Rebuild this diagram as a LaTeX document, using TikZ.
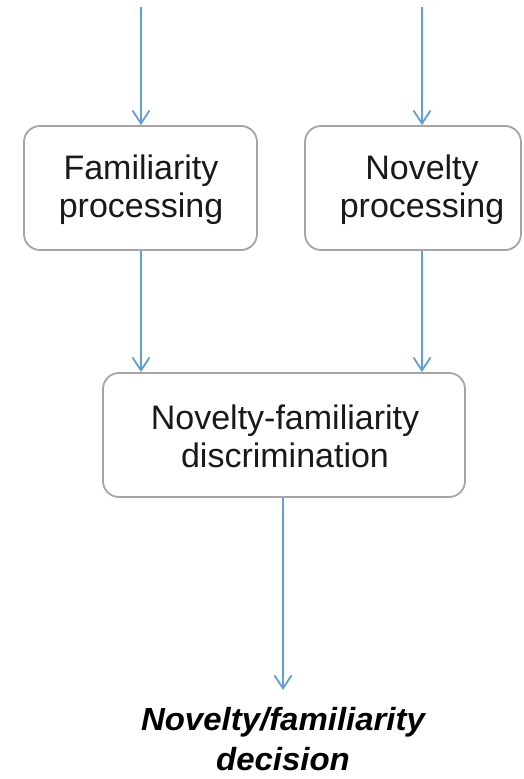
\documentclass[tikz,border=0pt]{standalone}
\usepackage{fontspec}
\setmainfont{Liberation Sans}
\usetikzlibrary{arrows.meta}
\definecolor{arrblue}{RGB}{98,158,214}
\definecolor{boxgray}{RGB}{165,165,165}
\definecolor{txtgray}{RGB}{25,25,25}
\begin{document}
\begin{tikzpicture}[x=1pt,y=-1pt,
  procbox/.style={draw=boxgray, line width=1.8pt, rounded corners=16pt, minimum height=124pt, inner sep=0pt},
  boxtext/.style={font=\fontsize{34}{38}\selectfont, text=txtgray, align=center, inner sep=0pt},
  dectext/.style={font=\fontsize{32}{40}\selectfont\bfseries\itshape, text=black, align=center, inner sep=0pt},
  arr/.style={draw=arrblue, line width=1.8pt, -{Straight Barb[length=13pt,width=17pt,line width=1.8pt]}}]
\useasboundingbox (0,0) rectangle (524,779);
% boxes
\node[procbox, minimum width=233pt] (fam) at (140.5,188) {};
\node[boxtext] (famt) at (141,190) {Familiarity\\processing};
\node[procbox, minimum width=216pt] (nov) at (413,188) {};
\node[boxtext] (novt) at (422,190) {Novelty\\processing};
\node[procbox, minimum width=362pt] (disc) at (284,435) {};
\node[boxtext] (disct) at (285,436) {Novelty-familiarity\\discrimination};
\node[dectext, anchor=north, xscale=1.03] (dec) at (283,707) {Novelty/familiarity\\decision};
% input coordinates
\coordinate (in1) at (141,7);
\coordinate (in2) at (422,7);
\coordinate (decin) at ([yshift=17pt]dec.north);
% arrows
\draw[arr] (in1) -- (in1 |- fam.north);
\draw[arr] (in2) -- (in2 |- nov.north);
\draw[arr] (in1 |- fam.south) -- (in1 |- disc.north);
\draw[arr] (in2 |- nov.south) -- (in2 |- disc.north);
\draw[arr] (disc.south -| decin) -- (decin);
\end{tikzpicture}
\end{document}
